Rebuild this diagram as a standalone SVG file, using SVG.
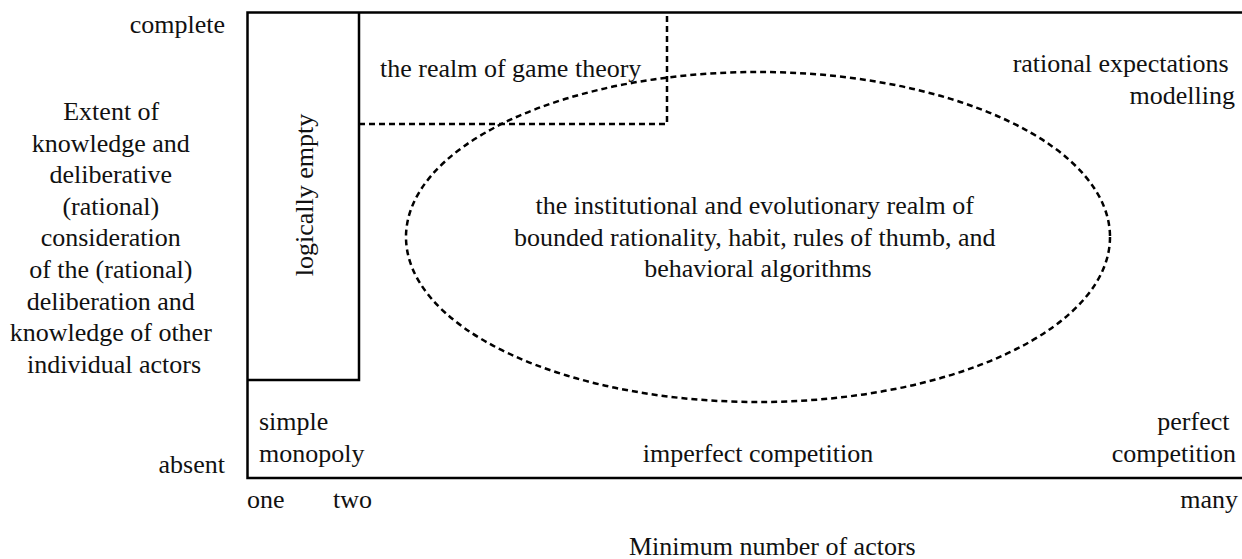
<svg xmlns="http://www.w3.org/2000/svg" width="1242" height="559" viewBox="0 0 1242 559">
  <style>
    text { font-family: 'Liberation Serif', 'Times New Roman', serif; font-size: 26px; fill: #111; }
    .solid { fill: none; stroke: #000; stroke-width: 2.5; }
    .dash { fill: none; stroke: #000; stroke-width: 2.5; stroke-dasharray: 6 4; }
    .mid { text-anchor: middle; }
    .end { text-anchor: end; }
  </style>
  <rect width="1242" height="559" fill="#fff"/>

  <!-- axes frame: top, left and bottom edges -->
  <g id="frame">
    <path class="solid" d="M1242 12.5 H247.5 V478 H1242"/>
  </g>

  <!-- y axis labels -->
  <g id="y-axis">
    <text class="end" x="225" y="33">complete</text>
    <text class="mid">
      <tspan x="114.5" y="120">Extent of</tspan>
      <tspan x="114" y="151.6">knowledge and</tspan>
      <tspan x="114" y="183.2">deliberative</tspan>
      <tspan x="114" y="214.8">(rational)</tspan>
      <tspan x="114" y="246.4">consideration</tspan>
      <tspan x="114" y="278">of the (rational)</tspan>
      <tspan x="114" y="309.6">deliberation and</tspan>
      <tspan x="114" y="341.2">knowledge of other</tspan>
      <tspan x="114" y="373">individual actors</tspan>
    </text>
    <text class="end" x="225" y="473">absent</text>
  </g>

  <!-- x axis labels -->
  <g id="x-axis">
    <text x="247" y="508">one</text>
    <text x="333" y="508">two</text>
    <text class="end" x="1238" y="508">many</text>
    <text x="629" y="555">Minimum number of actors</text>
  </g>

  <!-- logically empty column -->
  <g id="logically-empty">
    <path class="solid" d="M247.5 380 H359 V12.5"/>
    <text class="mid" transform="translate(313 195) rotate(-90)">logically empty</text>
  </g>

  <!-- game theory region -->
  <g id="game-theory">
    <path class="dash" d="M359 124 H667 V12.5"/>
    <text x="380" y="77">the realm of game theory</text>
  </g>

  <!-- institutional / evolutionary region -->
  <g id="institutional">
    <ellipse class="dash" cx="758" cy="237" rx="352" ry="165"/>
    <text class="mid">
      <tspan x="758" y="214">the institutional and evolutionary realm of</tspan>
      <tspan x="758" y="245.5">bounded rationality, habit, rules of thumb, and</tspan>
      <tspan x="758" y="277">behavioral algorithms</tspan>
    </text>
  </g>

  <!-- market-structure labels -->
  <g id="rational-expectations">
    <text class="end">
      <tspan x="1235" y="72">rational expectations</tspan>
      <tspan x="1235" y="104">modelling</tspan>
    </text>
  </g>
  <g id="simple-monopoly">
    <text>
      <tspan x="259" y="430">simple</tspan>
      <tspan x="259" y="462">monopoly</tspan>
    </text>
  </g>
  <g id="imperfect-competition">
    <text class="mid" x="758" y="462">imperfect competition</text>
  </g>
  <g id="perfect-competition">
    <text class="end">
      <tspan x="1236" y="430">perfect</tspan>
      <tspan x="1236" y="462">competition</tspan>
    </text>
  </g>

  <!-- no connectors in this chart -->
  <g id="connectors"/>
</svg>
